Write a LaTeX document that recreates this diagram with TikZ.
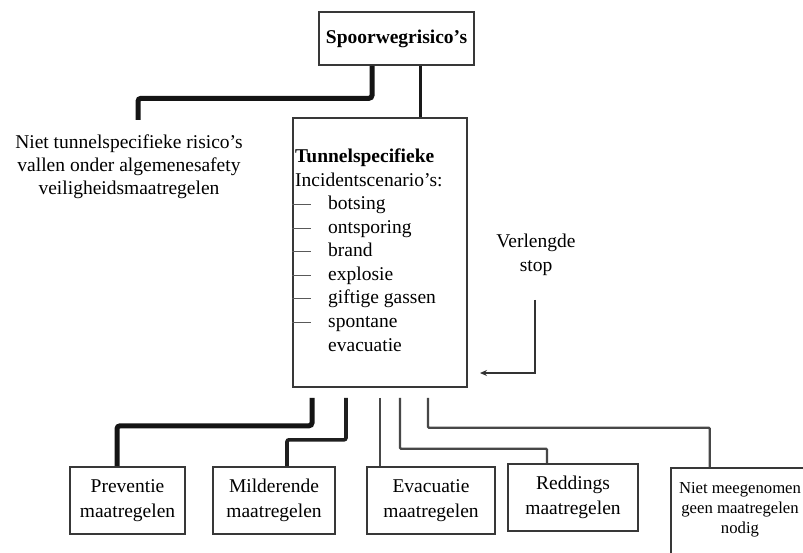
\documentclass[tikz,border=0pt]{standalone}
\usepackage{fontspec}
\setmainfont{Liberation Serif}
\usetikzlibrary{calc,arrows.meta}
\begin{document}
\begin{tikzpicture}[x=1pt,y=-1pt,
  font=\fontsize{19.5}{25}\selectfont,
  box/.style={draw=black!78, line width=1.6pt, fill=white, inner sep=0pt, align=center},
  conthick/.style={draw=black!92, line width=5pt, rounded corners=3pt},
  conmed/.style={draw=black!88, line width=3.6pt, rounded corners=2pt},
  conthin/.style={draw=black!72, line width=2.2pt, rounded corners=1pt},
  dashline/.style={draw=black!65, line width=1pt},
  txt/.style={inner sep=0pt, anchor=base west},
  ctxt/.style={inner sep=0pt, anchor=base},
  small/.style={font=\fontsize{16.7}{20}\selectfont},
]
\clip (0,0) rectangle (803,553);
\fill[white] (0,0) rectangle (803,553);

% boxes
\node[box, minimum width=155pt, minimum height=53pt, font=\fontsize{19.5}{25}\selectfont\bfseries] (top) at (396.5,38.5) {Spoorwegrisico's};
\node[box, minimum width=174pt, minimum height=269pt] (tun) at (380,252.5) {};

\node[box, minimum width=115pt, minimum height=67pt] (prev) at (127.5,500.5) {Preventie\\maatregelen};
\node[box, minimum width=122pt, minimum height=67pt] (mild) at (274,500.5) {Milderende\\maatregelen};
\node[box, minimum width=128pt, minimum height=67pt] (evac) at (431,500.5) {Evacuatie\\maatregelen};
\node[box, minimum width=130pt, minimum height=67pt] (red) at (573,497.5) {Reddings\\maatregelen};
\node[box, minimum width=140pt, minimum height=110pt, anchor=north west] (nm) at (670,467) {};
\node[ctxt, small] (nm1) at (740,493) {Niet meegenomen};
\node[ctxt, small] (nm2) at (740,513) {geen maatregelen};
\node[ctxt, small] (nm3) at (740,533) {nodig};

% tunnel box contents
\node[txt, font=\fontsize{19.5}{25}\selectfont\bfseries] (t1) at (295,163) {Tunnelspecifieke};
\node[txt] (t2) at (295,187) {Incidentscenario's:};
\node[txt] (i1) at (328,210) {botsing};
\node[txt] (i2) at (328,233.5) {ontsporing};
\node[txt] (i3) at (328,257) {brand};
\node[txt] (i4) at (328,280.5) {explosie};
\node[txt] (i5) at (328,304) {giftige gassen};
\node[txt] (i6) at (328,327.5) {spontane};
\node[txt] (i7) at (328,351) {evacuatie};
\foreach \i in {i1,i2,i3,i4,i5,i6}{
  \draw[dashline] ($(tun.west |- \i.base)+(0,-5)$) -- ++(19,0);
}

% left text
\node[ctxt] (n1) at (129,149) {Niet tunnelspecifieke risico's};
\node[ctxt] (n2) at (129,172) {vallen onder algemenesafety};
\node[ctxt] (n3) at (129,195) {veiligheidsmaatregelen};
\coordinate (nietin) at (138,120);

% Verlengde stop
\node[ctxt] (v1) at (536,248) {Verlengde};
\node[ctxt] (v2) at (536,272) {stop};
\coordinate (vs) at (535,300);
\coordinate (vend) at (480,373);

% connectors
\draw[conthick] ([xshift=-24.5pt]top.south) -- ++(0,32.5) -| (nietin);
\draw[draw=black!90, line width=3pt] ([xshift=23.5pt]top.south) -- ([xshift=40pt]tun.north);

\draw[conthick] ([xshift=-68pt,yshift=-10pt]tun.south) -- ++(0,28) -| ([xshift=-10.5pt]prev.north);
\draw[conmed] ([xshift=-34pt,yshift=-10pt]tun.south) -- ++(0,42) -| ([xshift=13pt]mild.north);
\draw[conthin] ([yshift=-10pt]tun.south) -- ([xshift=-51pt]evac.north);
\draw[conthin] ([xshift=20pt,yshift=-10pt]tun.south) -- ++(0,51) -| ([xshift=-26pt]red.north);
\draw[conthin] ([xshift=48pt,yshift=-10pt]tun.south) -- ++(0,30) -| ([xshift=-31pt]nm.north);

\draw[draw=black!80, line width=1.6pt, -{Stealth[length=7pt,width=6pt]}] (vs) |- (vend);
\end{tikzpicture}
\end{document}
